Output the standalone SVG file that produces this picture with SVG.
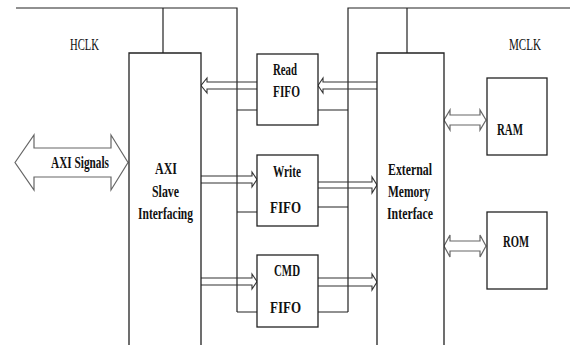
<svg xmlns="http://www.w3.org/2000/svg" width="570" height="345" viewBox="0 0 570 345">
<style>
.box{fill:#fff;stroke:#222;stroke-width:1.3}
.ln{fill:none;stroke:#222;stroke-width:1.2}
.ba{fill:none;stroke:#333;stroke-width:1.1;stroke-linejoin:miter}
.da{fill:#fff;stroke:#666;stroke-width:1.2;stroke-linejoin:miter}
.t{font-family:'Liberation Serif','Times New Roman',serif;font-size:16.5px;font-weight:bold;fill:#111}
.c{font-family:'Liberation Serif','Times New Roman',serif;font-size:16.5px;fill:#111}
</style>
<rect x="0" y="0" width="570" height="345" fill="#fff"/>
<g id="connectors">
<path class="ln" d="M16,8 H237 V312 M163,8 V53 M237,110 H257 M237,212 H257 M237,312 H257"/>
<path class="ln" d="M570,8 H348 V312 M407,8 V53 M318,110 H348 M318,207 H348 M318,312 H348"/>
<path class="ba" d="M257,82 H207 V78 L201,85.5 L207,93 V89 H257"/>
<path class="ba" d="M377,82 H323 V78 L318,85.5 L323,93 V89 H377"/>
<path class="ba" d="M201,176 H252 V172 L257,179.5 L252,187 V183 H201"/>
<path class="ba" d="M318,182 H372 V177 L377,185 L372,193 V188 H318"/>
<path class="ba" d="M201,278 H252 V274 L257,281.5 L252,289 V285 H201"/>
<path class="ba" d="M318,278 H372 V274 L377,282 L372,290 V286 H318"/>
<path class="da" d="M444,120 L450,110 V115 H480 V110 L486,120 L480,130 V125 H450 V130 Z"/>
<path class="da" d="M444,246 L450,235 V241 H480 V235 L486,246 L480,257 V251 H450 V257 Z"/>
<path class="da" d="M15,162.5 L34,135 V148 H111 V135 L128,162.5 L111,190 V177 H34 V190 Z"/>
</g>
<g id="hclk"><text class="c" x="70" y="50" textLength="29" lengthAdjust="spacingAndGlyphs">HCLK</text></g>
<g id="mclk"><text class="c" x="509" y="50" textLength="32" lengthAdjust="spacingAndGlyphs">MCLK</text></g>
<g id="axi-signals"><text class="t" x="51" y="168" textLength="58" lengthAdjust="spacingAndGlyphs">AXI Signals</text></g>
<g id="axi-slave">
<path class="box" d="M129,346 V53 H201 V346"/>
<text class="t" x="155" y="174" textLength="22" lengthAdjust="spacingAndGlyphs">AXI</text>
<text class="t" x="152" y="197" textLength="27" lengthAdjust="spacingAndGlyphs">Slave</text>
<text class="t" x="138" y="219" textLength="55" lengthAdjust="spacingAndGlyphs">Interfacing</text>
</g>
<g id="read-fifo">
<rect class="box" x="257" y="54" width="61" height="71"/>
<text class="t" x="273" y="75" textLength="24" lengthAdjust="spacingAndGlyphs">Read</text>
<text class="t" x="273" y="97" textLength="27" lengthAdjust="spacingAndGlyphs">FIFO</text>
</g>
<g id="write-fifo">
<rect class="box" x="257" y="155" width="61" height="71"/>
<text class="t" x="273" y="177" textLength="28" lengthAdjust="spacingAndGlyphs">Write</text>
<text class="t" x="270" y="213" textLength="31" lengthAdjust="spacingAndGlyphs">FIFO</text>
</g>
<g id="cmd-fifo">
<rect class="box" x="257" y="255" width="61" height="72"/>
<text class="t" x="274" y="276" textLength="26" lengthAdjust="spacingAndGlyphs">CMD</text>
<text class="t" x="270" y="313" textLength="31" lengthAdjust="spacingAndGlyphs">FIFO</text>
</g>
<g id="external-memory">
<path class="box" d="M377,346 V53 H444 V346"/>
<text class="t" x="388" y="175" textLength="44" lengthAdjust="spacingAndGlyphs">External</text>
<text class="t" x="388" y="197" textLength="42" lengthAdjust="spacingAndGlyphs">Memory</text>
<text class="t" x="387" y="219" textLength="46" lengthAdjust="spacingAndGlyphs">Interface</text>
</g>
<g id="ram">
<rect class="box" x="487" y="78" width="60" height="77"/>
<text class="t" x="497" y="135" textLength="26" lengthAdjust="spacingAndGlyphs">RAM</text>
</g>
<g id="rom">
<rect class="box" x="487" y="212" width="60" height="77"/>
<text class="t" x="503" y="247" textLength="26" lengthAdjust="spacingAndGlyphs">ROM</text>
</g>
</svg>
